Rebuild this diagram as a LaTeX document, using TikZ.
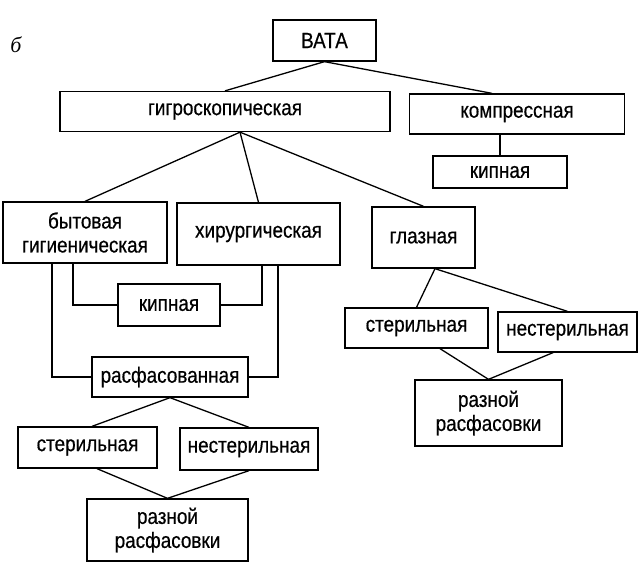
\documentclass[tikz,border=0pt]{standalone}
\usepackage{fontspec}
\setmainfont{Liberation Sans}[FakeStretch=0.86,FakeBold=0.5]
\newfontfamily\lblfont{Liberation Serif}
\begin{document}
\begin{tikzpicture}[x=1pt,y=-1pt,
    bx/.style={draw,line width=1.3pt,inner sep=0pt,align=center,
      font=\fontsize{22}{24}\selectfont},
    ln/.style={line width=1.3pt}]
  \useasboundingbox (0,0) rectangle (640,565);
  \node[font=\lblfont\itshape\fontsize{22}{24}\selectfont] (lbl) at (16,45) {б};
  \node[bx,minimum width=103pt,minimum height=41pt] (Vata) at (324.5,40.5) {ВАТА};
  \node[bx,minimum width=330pt,minimum height=40pt] (Gig) at (225,111.5) {гигроскопическая};
  \node[bx,minimum width=215pt,minimum height=40pt] (Komp) at (517,114) {компрессная};
  \node[bx,minimum width=134pt,minimum height=32pt] (Kip2) at (500,172) {кипная};
  \node[bx,minimum width=164pt,minimum height=61pt] (Byt) at (85,232.5) {бытовая\\гигиеническая};
  \node[bx,minimum width=163pt,minimum height=62pt] (Hir) at (258.5,234) {хирургическая};
  \node[bx,minimum width=103pt,minimum height=61pt] (Glaz) at (423.5,237.5) {глазная};
  \node[bx,minimum width=102pt,minimum height=42pt] (Kip1) at (169,305) {кипная};
  \node[bx,minimum width=143pt,minimum height=40pt] (Ster2) at (416.5,328) {стерильная};
  \node[bx,minimum width=139pt,minimum height=40pt] (Nester2) at (567.5,332) {нестерильная};
  \node[bx,minimum width=147pt,minimum height=66pt] (Razn2) at (488.5,413) {разной\\расфасовки};
  \node[bx,minimum width=156pt,minimum height=40pt] (Rasf) at (170,377) {расфасованная};
  \node[bx,minimum width=139pt,minimum height=41pt] (Ster1) at (87.5,447.5) {стерильная};
  \node[bx,minimum width=138pt,minimum height=42pt] (Nester1) at (249,449) {нестерильная};
  \node[bx,minimum width=161pt,minimum height=62pt] (Razn1) at (167.5,530) {разной\\расфасовки};
  \draw[ln] (Vata.south) -- (Gig.north);
  \draw[ln] (Vata.south) -- ([xshift=-25pt]Komp.north);
  \draw[ln] (Kip2.north) -- (Kip2.north |- Komp.south);
  \draw[ln] ([xshift=15pt]Gig.south) -- (Byt.north);
  \draw[ln] ([xshift=15pt]Gig.south) -- (Hir.north);
  \draw[ln] ([xshift=15pt]Gig.south) -- (Glaz.north);
  \draw[ln] ([xshift=-12pt]Byt.south) |- (Kip1.west);
  \draw[ln] ([xshift=-33pt]Byt.south) |- (Rasf.west);
  \draw[ln] ([xshift=3.5pt]Hir.south) |- (Kip1.east);
  \draw[ln] ([xshift=19.5pt]Hir.south) |- (Rasf.east);
  \draw[ln] ([xshift=11.5pt]Glaz.south) -- (Ster2.north);
  \draw[ln] ([xshift=11.5pt]Glaz.south) -- (Nester2.north);
  \draw[ln] ([xshift=23.5pt]Ster2.south) -- (Razn2.north);
  \draw[ln] ([xshift=-14.5pt]Nester2.south) -- (Razn2.north);
  \draw[ln] (Rasf.south) -- ([xshift=4.5pt]Ster1.north);
  \draw[ln] (Rasf.south) -- (Nester1.north);
  \draw[ln] ([xshift=9.5pt]Ster1.south) -- (Razn1.north);
  \draw[ln] (Nester1.south) -- (Razn1.north);
\end{tikzpicture}
\end{document}
